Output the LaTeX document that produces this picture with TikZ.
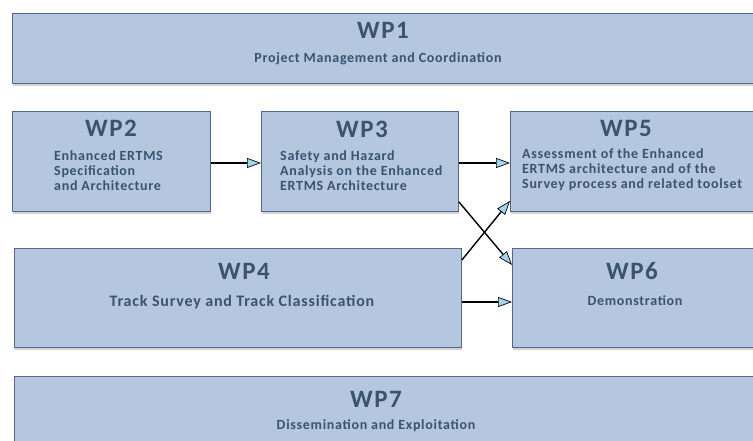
\documentclass[tikz,border=0pt]{standalone}
\usepackage{fontspec}
\setmainfont{Carlito}
\usetikzlibrary{arrows.meta,shadows}

\definecolor{wpfill}{HTML}{B4C7DF}
\definecolor{wpedge}{HTML}{50688A}
\definecolor{wptext}{HTML}{3B536E}
\definecolor{tipfill}{HTML}{A3D6E8}

\tikzset{
  wpbox/.style={draw=wpedge, fill=wpfill, line width=0.9pt, anchor=north west, inner sep=0pt,
    drop shadow={shadow xshift=1pt, shadow yshift=-2.5pt, opacity=0.35}},
  wptitle/.style={text=wptext, font=\bfseries\fontsize{25}{28}\selectfont\addfontfeatures{LetterSpace=6}, inner sep=0pt},
  wpdesc/.style={text=wptext, font=\bfseries\fontsize{14}{15}\selectfont\addfontfeatures{LetterSpace=5}, inner sep=0pt, align=left},
  flow/.style={line width=1.4pt, -{Triangle[length=14pt,width=10pt,fill=tipfill,line width=0.7pt]}},
}

\begin{document}
\begin{tikzpicture}[x=1pt,y=-1pt]
  \useasboundingbox (0,0) rectangle (753,441);
  \clip (0,0) rectangle (753,441);

  % work package boxes
  \node[wpbox, minimum width=770pt, minimum height=70pt]  (wp1) at (12,13)  {};
  \node[wpbox, minimum width=198pt, minimum height=100pt] (wp2) at (12,111) {};
  \node[wpbox, minimum width=197pt, minimum height=100pt] (wp3) at (261,111) {};
  \node[wpbox, minimum width=260pt, minimum height=100pt] (wp5) at (510,111) {};
  \node[wpbox, minimum width=447pt, minimum height=99pt]  (wp4) at (14,248) {};
  \node[wpbox, minimum width=260pt, minimum height=99pt]  (wp6) at (512,248) {};
  \node[wpbox, minimum width=770pt, minimum height=90pt]  (wp7) at (14,376) {};

  % titles
  \node[wptitle, anchor=base] (wp1t) at (383,39)  {WP1};
  \node[wptitle, anchor=base] (wp2t) at (111,137) {WP2};
  \node[wptitle, anchor=base] (wp3t) at (362,138) {WP3};
  \node[wptitle, anchor=base] (wp5t) at (626,137) {WP5};
  \node[wptitle, anchor=base] (wp4t) at (244,279) {WP4};
  \node[wptitle, anchor=base] (wp6t) at (632,279) {WP6};
  \node[wptitle, anchor=base] (wp7t) at (376,407) {WP7};

  % descriptions
  \node[wpdesc, anchor=base] (wp1d) at (378,63) {Project Management and Coordination};
  \node[wpdesc, anchor=north west] (wp2d) at (54,150) {Enhanced ERTMS\\Specification\\and Architecture};
  \node[wpdesc, anchor=north west] (wp3d) at (280,150) {Safety and Hazard\\Analysis on the Enhanced\\ERTMS Architecture};
  \node[wpdesc, anchor=north west] (wp5d) at (522,148) {Assessment of the Enhanced\\ERTMS architecture and of the\\Survey process and related toolset};
  \node[wpdesc, anchor=base, font=\bfseries\fontsize{16}{18}\selectfont\addfontfeatures{LetterSpace=5}] (wp4d) at (242,306) {Track Survey and Track Classification};
  \node[wpdesc, anchor=base] (wp6d) at (635,305) {Demonstration};
  \node[wpdesc, anchor=base] (wp7d) at (376,429) {Dissemination and Exploitation};

  % dependencies
  \draw[flow] ([yshift=-52pt]wp2.north east) -- ([yshift=-52pt]wp3.north west);
  \draw[flow] ([yshift=-52pt]wp3.north east) -- ([yshift=-52pt]wp5.north west);
  \draw[flow] ([yshift=10pt]wp3.south east) -- ([yshift=-17pt]wp6.north west);
  \draw[flow] ([yshift=-12pt]wp4.north east) -- ([yshift=11pt]wp5.south west);
  \draw[flow] ([yshift=-54pt]wp4.north east) -- ([yshift=-54pt]wp6.north west);
\end{tikzpicture}
\end{document}
